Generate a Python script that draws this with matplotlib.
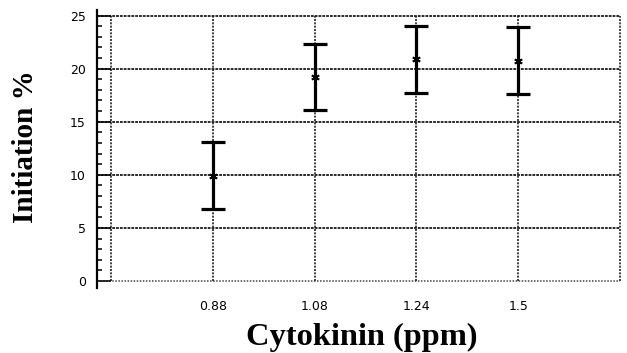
import numpy as np
import matplotlib
matplotlib.use("Agg")
import matplotlib.pyplot as plt
from matplotlib.ticker import MultipleLocator

# cytokinin doses and initiation response (mean with error)
doses = ["0.88", "1.08", "1.24", "1.5"]
initiation = [9.9, 19.2, 20.9, 20.75]
err = [3.15, 3.1, 3.15, 3.15]

fig = plt.figure(figsize=(6.27, 3.53), dpi=100)
ax = fig.add_axes([97 / 627, 65 / 353, 523 / 627, 278 / 353])

x = np.arange(1, len(doses) + 1)
x_left = -0.1375

# dotted grid: horizontal lines from the y axis, vertical lines at each slot
grid_kw = dict(color="#111111", linestyle=(0, (1.6, 0.6)), linewidth=1.25, zorder=1, clip_on=False)
ax.hlines(np.arange(5, 26, 5), x_left, 5, **grid_kw)
ax.hlines(0, x_left, 5, color="#444444", linestyle=(0, (1, 1)), linewidth=1.1, zorder=1, clip_on=False)
ax.vlines(np.arange(0, 6), 0, 25, color="#222222", linestyle=(0, (1.2, 0.8)),
          linewidth=1.2, zorder=1, clip_on=False)

ax.errorbar(x, initiation, yerr=err, fmt="none", ecolor="black",
            elinewidth=2.3, capsize=8.5, capthick=2.3, zorder=3)
ax.plot(x, initiation, linestyle="none", marker=(6, 2, 0), markersize=6,
        markeredgewidth=1.3, color="black", zorder=4)

ax.set_xlim(x_left, 5)
ax.set_ylim(-0.66, 25.52)

for side in ["top", "right", "bottom"]:
    ax.spines[side].set_visible(False)
ax.spines["left"].set_linewidth(1.6)

ax.set_yticks(np.arange(0, 26, 5))
ax.yaxis.set_minor_locator(MultipleLocator(1))
ax.tick_params(axis="y", which="major", direction="in", length=10, width=1.1,
               pad=8, labelsize=9)
ax.tick_params(axis="y", which="minor", direction="in", length=3.5, width=1.1)
ax.set_xticks(x)
ax.set_xticklabels(doses)
ax.tick_params(axis="x", length=0, pad=9, labelsize=9)

fig.text(362 / 627, 1 - 345 / 353, "Cytokinin (ppm)", ha="center", va="baseline",
         fontsize=23.3, fontweight="bold", family="Liberation Serif")
fig.text(26 / 627, 1 - 147 / 353, "Initiation %", ha="center", va="center",
         rotation=90, fontsize=21, fontweight="bold", family="Liberation Serif")

fig.savefig("out.png", dpi=100)
